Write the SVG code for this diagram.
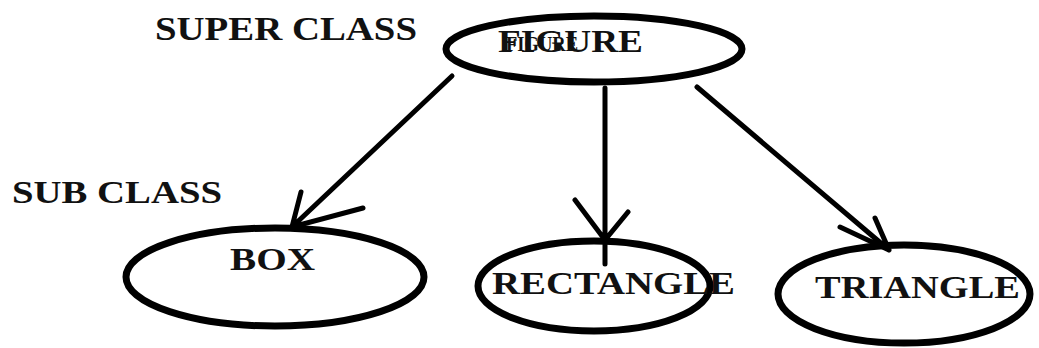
<svg xmlns="http://www.w3.org/2000/svg" width="1039" height="348" viewBox="0 0 1039 348">
  <style>
    .node { fill: none; stroke: #000; stroke-width: 7; }
    .lbl { font-family: "Liberation Serif", "Times New Roman", serif; font-weight: bold; fill: #111; }
    .edge { stroke: #000; stroke-width: 5; stroke-linecap: round; fill: none; }
  </style>
  <rect width="1039" height="348" fill="#fff"/>

  <!-- level captions -->
  <text class="lbl" x="155" y="40" font-size="34" textLength="262" lengthAdjust="spacingAndGlyphs">SUPER CLASS</text>
  <text class="lbl" x="12" y="203" font-size="31" textLength="210" lengthAdjust="spacingAndGlyphs">SUB CLASS</text>

  <!-- connectors -->
  <g id="connectors">
    <path class="edge" d="M452 76 L292 227 M301 192 L292 227 L363 208"/>
    <path class="edge" d="M605 88 L605 264 M575 200 L605 240 L628 212"/>
    <path class="edge" d="M697 87 L889 250 M840 227 L889 250 M875 218 L889 250"/>
  </g>

  <g id="figure">
    <ellipse class="node" cx="594" cy="49" rx="148" ry="33"/>
    <text class="lbl" x="506" y="51" font-size="20" fill="#666" textLength="72" lengthAdjust="spacingAndGlyphs">FIGURE</text>
    <text class="lbl" x="498" y="52" font-size="31" textLength="145" lengthAdjust="spacingAndGlyphs">FIGURE</text>
  </g>

  <g id="box">
    <ellipse class="node" cx="275" cy="277" rx="149" ry="49"/>
    <text class="lbl" x="230" y="270" font-size="31" textLength="85" lengthAdjust="spacingAndGlyphs">BOX</text>
  </g>

  <g id="rectangle">
    <ellipse class="node" cx="594" cy="286" rx="116" ry="45"/>
    <text class="lbl" x="492" y="294" font-size="31" textLength="243" lengthAdjust="spacingAndGlyphs">RECTANGLE</text>
  </g>

  <g id="triangle">
    <ellipse class="node" cx="904" cy="294" rx="126" ry="49"/>
    <text class="lbl" x="815" y="298" font-size="31" textLength="205" lengthAdjust="spacingAndGlyphs">TRIANGLE</text>
  </g>
</svg>
